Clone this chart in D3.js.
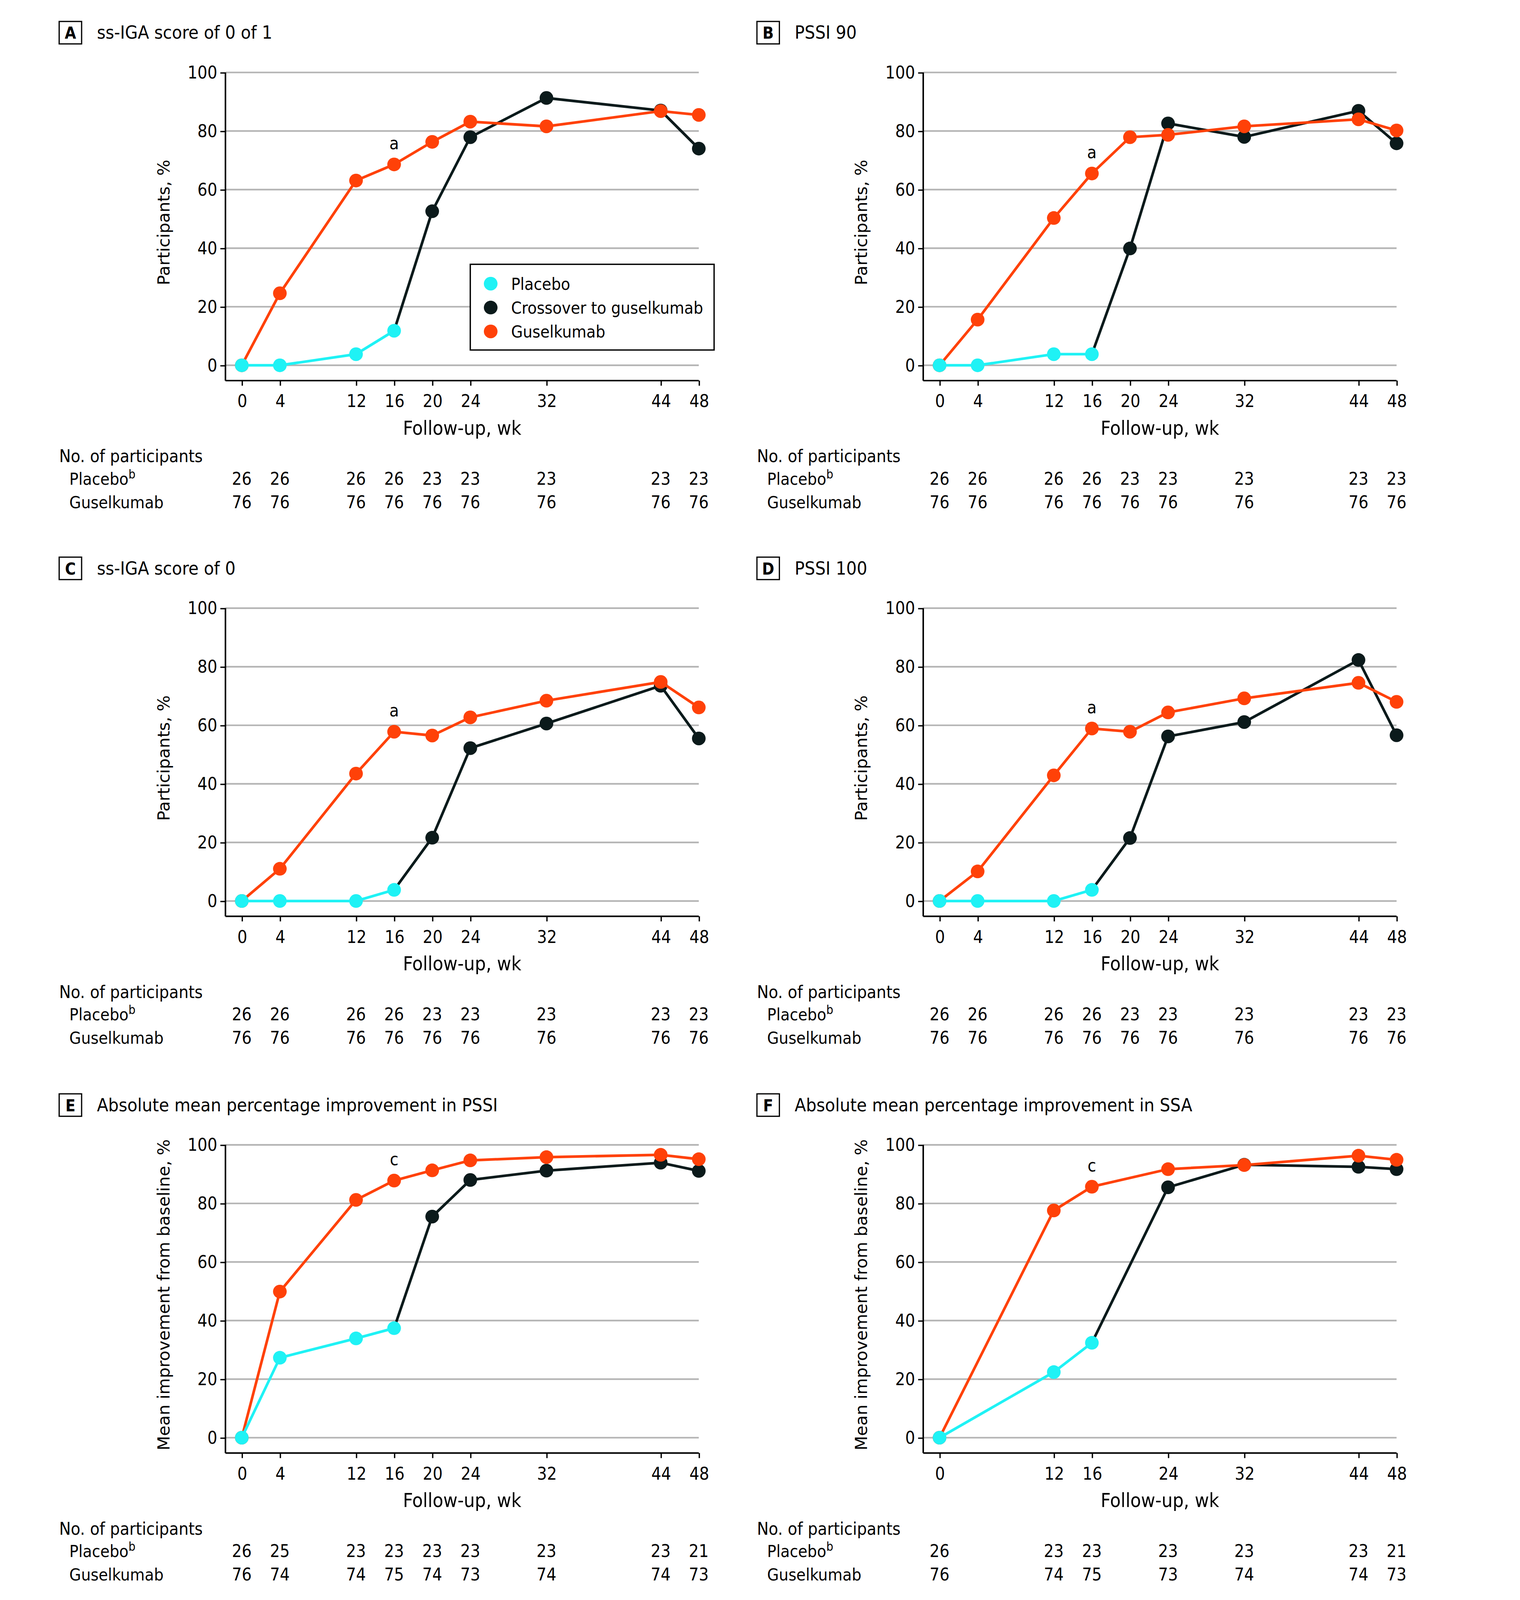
<!DOCTYPE html>
<html>
<head>
<meta charset="utf-8">
<script src="https://cdn.jsdelivr.net/npm/d3@7"></script>
<style>
  body { margin: 0; background: #fff; }
  svg { display: block; }
  text { font-family: "DejaVu Sans Condensed", "Liberation Sans Narrow", sans-serif; fill: #000; }
  .ytitle { font-family: "DejaVu Sans", "Verdana", sans-serif; }
</style>
</head>
<body>
<svg id="chart"></svg>
<script>
// weeks on the x axis
const weeks = [0, 4, 12, 16, 20, 24, 32, 44, 48];
const weeksF = [0, 12, 16, 24, 32, 44, 48];
const placeboWeeks = [0, 4, 12, 16];
const placeboWeeksF = [0, 12, 16];
const crossWeeks = [16, 20, 24, 32, 44, 48];
const crossWeeksF = [16, 24, 32, 44, 48];
const yTicks = [0, 20, 40, 60, 80, 100];

const seriesNames = ["Placebo", "Crossover to guselkumab", "Guselkumab"];

// A  ss-IGA score of 0 of 1
const placeboA = [0, 0, 3.8, 11.8];
const crossA = [11.8, 52.6, 77.9, 91.3, 87.0, 74.0];
const guselA = [0, 24.6, 63.1, 68.6, 76.3, 83.2, 81.6, 86.8, 85.5];
// B  PSSI 90
const placeboB = [0, 0, 3.8, 3.8];
const crossB = [3.8, 39.9, 82.6, 78.0, 86.9, 75.8];
const guselB = [0, 15.6, 50.3, 65.5, 77.9, 78.7, 81.6, 84.0, 80.2];
// C  ss-IGA score of 0
const placeboC = [0, 0, 0, 3.8];
const crossC = [3.8, 21.6, 52.2, 60.6, 73.5, 55.5];
const guselC = [0, 11.0, 43.5, 57.8, 56.5, 62.7, 68.4, 74.8, 66.1];
// D  PSSI 100
const placeboD = [0, 0, 0, 3.8];
const crossD = [3.8, 21.5, 56.2, 61.1, 82.3, 56.6];
const guselD = [0, 10.1, 42.9, 58.9, 57.8, 64.4, 69.2, 74.5, 68.0];
// E  mean improvement PSSI
const placeboE = [0, 27.3, 33.9, 37.4];
const crossE = [37.4, 75.5, 88.0, 91.2, 93.9, 91.1];
const guselE = [0, 49.9, 81.2, 87.8, 91.3, 94.7, 95.8, 96.6, 95.1];
// F  mean improvement SSA
const placeboF = [0, 22.4, 32.4];
const crossF = [32.4, 85.5, 93.2, 92.5, 91.7];
const guselF = [0, 77.6, 85.7, 91.7, 93.1, 96.3, 94.9];

// number of participants
const nPlacebo = [26, 26, 26, 26, 23, 23, 23, 23, 23];
const nGusel = [76, 76, 76, 76, 76, 76, 76, 76, 76];
const nPlaceboE = [26, 25, 23, 23, 23, 23, 23, 23, 21];
const nGuselE = [76, 74, 74, 75, 74, 73, 74, 74, 73];
const nPlaceboF = [26, 23, 23, 23, 23, 23, 21];
const nGuselF = [76, 74, 75, 73, 74, 74, 73];

const colors = { placebo: "#1ff2f5", cross: "#0b1a1b", gusel: "#ff4108" };

const W = 1490, H = 1627;
const svg = d3.select("#chart")
    .attr("width", 3892)
    .attr("height", 4250)
    .attr("viewBox", `0 0 ${W} ${H}`);

const yPct = "Participants, %";
const yMean = "Mean improvement from baseline, %";

const panels = [
    { id: "A", title: "ss-IGA score of 0 of 1", col: 0, row: 0, yLabel: yPct, note: "a", legend: true,
      ticks: weeks, placebo: [placeboWeeks, placeboA], cross: [crossWeeks, crossA], gusel: [weeks, guselA], nP: nPlacebo, nG: nGusel },
    { id: "B", title: "PSSI 90", col: 1, row: 0, yLabel: yPct, note: "a",
      ticks: weeks, placebo: [placeboWeeks, placeboB], cross: [crossWeeks, crossB], gusel: [weeks, guselB], nP: nPlacebo, nG: nGusel },
    { id: "C", title: "ss-IGA score of 0", col: 0, row: 1, yLabel: yPct, note: "a",
      ticks: weeks, placebo: [placeboWeeks, placeboC], cross: [crossWeeks, crossC], gusel: [weeks, guselC], nP: nPlacebo, nG: nGusel },
    { id: "D", title: "PSSI 100", col: 1, row: 1, yLabel: yPct, note: "a",
      ticks: weeks, placebo: [placeboWeeks, placeboD], cross: [crossWeeks, crossD], gusel: [weeks, guselD], nP: nPlacebo, nG: nGusel },
    { id: "E", title: "Absolute mean percentage improvement in PSSI", col: 0, row: 2, yLabel: yMean, note: "c",
      ticks: weeks, placebo: [placeboWeeks, placeboE], cross: [crossWeeks, crossE], gusel: [weeks, guselE], nP: nPlaceboE, nG: nGuselE },
    { id: "F", title: "Absolute mean percentage improvement in SSA", col: 1, row: 2, yLabel: yMean, note: "c",
      ticks: weeksF, placebo: [placeboWeeksF, placeboF], cross: [crossWeeksF, crossF], gusel: [weeksF, guselF], nP: nPlaceboF, nG: nGuselF }
];

const colX = [0, 684], rowY = [0, 525, 1051];
const axisLeftX = 221, axisBottomY = 373;

const x = d3.scaleLinear().domain([0, 48]).range([237, 685]);
const y = d3.scaleLinear().domain([0, 100]).range([358, 71]);

function drawPanel(p) {
    const g = svg.append("g").attr("transform", `translate(${colX[p.col]}, ${rowY[p.row]})`);

    // panel letter and title
    g.append("rect").attr("x", 58).attr("y", 21).attr("width", 22).attr("height", 22)
        .attr("fill", "none").attr("stroke", "#000").attr("stroke-width", 1.2);
    g.append("text").attr("x", 69).attr("y", 38).attr("text-anchor", "middle")
        .style("font-size", "16px").style("font-weight", "bold").text(p.id);
    g.append("text").attr("x", 95).attr("y", 38).style("font-size", "18px").text(p.title);

    // gridlines
    g.append("g").selectAll("line").data(yTicks).join("line")
        .attr("x1", axisLeftX).attr("x2", x(48))
        .attr("y1", d => y(d)).attr("y2", d => y(d))
        .attr("stroke", "#b4b4b4").attr("stroke-width", 1.6);

    // axes
    const yAxis = g.append("g").attr("transform", `translate(${axisLeftX},0)`)
        .call(d3.axisLeft(y).tickValues(yTicks).tickSize(5).tickPadding(3).tickSizeOuter(0));
    yAxis.select(".domain").remove();
    yAxis.append("line").attr("y1", y(100)).attr("y2", axisBottomY).attr("stroke", "#000").attr("stroke-width", 1.5);

    const xAxis = g.append("g").attr("transform", `translate(0,${axisBottomY})`)
        .call(d3.axisBottom(x).tickValues(p.ticks).tickSize(5).tickPadding(9).tickSizeOuter(0));
    xAxis.select(".domain").remove();
    xAxis.append("line").attr("x1", axisLeftX).attr("x2", x(48)).attr("stroke", "#000").attr("stroke-width", 1.5);

    [yAxis, xAxis].forEach(a => {
        a.selectAll(".tick line").attr("stroke", "#000").attr("stroke-width", 1.3);
        a.selectAll("text").attr("font-family", null).style("font-size", "17px").attr("fill", "#000");
    });

    g.append("text").attr("x", (axisLeftX + x(48)) / 2).attr("y", 426).attr("text-anchor", "middle")
        .style("font-size", "19px").text("Follow-up, wk");
    g.append("text").attr("class", "ytitle")
        .attr("transform", `translate(166, 218) rotate(-90)`)
        .attr("text-anchor", "middle").style("font-size", "16.5px").text(p.yLabel);

    // series
    const line = d3.line().x(d => x(d[0])).y(d => y(d[1]));
    const series = [
        { key: "cross", data: d3.zip(p.cross[0], p.cross[1]) },
        { key: "gusel", data: d3.zip(p.gusel[0], p.gusel[1]) },
        { key: "placebo", data: d3.zip(p.placebo[0], p.placebo[1]) }
    ];
    series.forEach(s => {
        const sg = g.append("g");
        sg.append("path").datum(s.data).attr("d", line)
            .attr("fill", "none").attr("stroke", colors[s.key]).attr("stroke-width", 2.6);
        const pts = s.key === "cross" ? s.data.slice(1) : s.data;
        sg.selectAll("circle").data(pts).join("circle")
            .attr("cx", d => x(d[0])).attr("cy", d => y(d[1])).attr("r", 6.7)
            .attr("fill", colors[s.key]);
    });

    // significance note above guselkumab at week 16
    const g16 = p.gusel[1][p.gusel[0].indexOf(16)];
    g.append("text").attr("x", x(16)).attr("y", y(g16) - 15).attr("text-anchor", "middle")
        .style("font-size", "17px").text(p.note);

    // legend
    if (p.legend) {
        const lg = g.append("g").attr("transform", "translate(461,259)");
        lg.append("rect").attr("width", 239).attr("height", 84)
            .attr("fill", "#fff").attr("stroke", "#000").attr("stroke-width", 1.3);
        const keys = ["placebo", "cross", "gusel"];
        keys.forEach((k, i) => {
            lg.append("circle").attr("cx", 20).attr("cy", 19 + i * 23.4).attr("r", 6.7).attr("fill", colors[k]);
            lg.append("text").attr("x", 40).attr("y", 25 + i * 23.4).style("font-size", "16.5px").text(seriesNames[i]);
        });
    }

    // number of participants table
    g.append("text").attr("x", 58).attr("y", 453).style("font-size", "17px").text("No. of participants");
    const pl = g.append("text").attr("x", 68).attr("y", 475).style("font-size", "16.5px");
    pl.append("tspan").text("Placebo");
    pl.append("tspan").attr("dy", -6).style("font-size", "12px").text("b");
    g.append("text").attr("x", 68).attr("y", 498).style("font-size", "16.5px").text("Guselkumab");

    g.append("g").selectAll("text").data(d3.zip(p.ticks, p.nP)).join("text")
        .attr("x", d => x(d[0])).attr("y", 475).attr("text-anchor", "middle")
        .style("font-size", "17px").text(d => d[1]);
    g.append("g").selectAll("text").data(d3.zip(p.ticks, p.nG)).join("text")
        .attr("x", d => x(d[0])).attr("y", 498).attr("text-anchor", "middle")
        .style("font-size", "17px").text(d => d[1]);
}

panels.forEach(drawPanel);
</script>
</body>
</html>
